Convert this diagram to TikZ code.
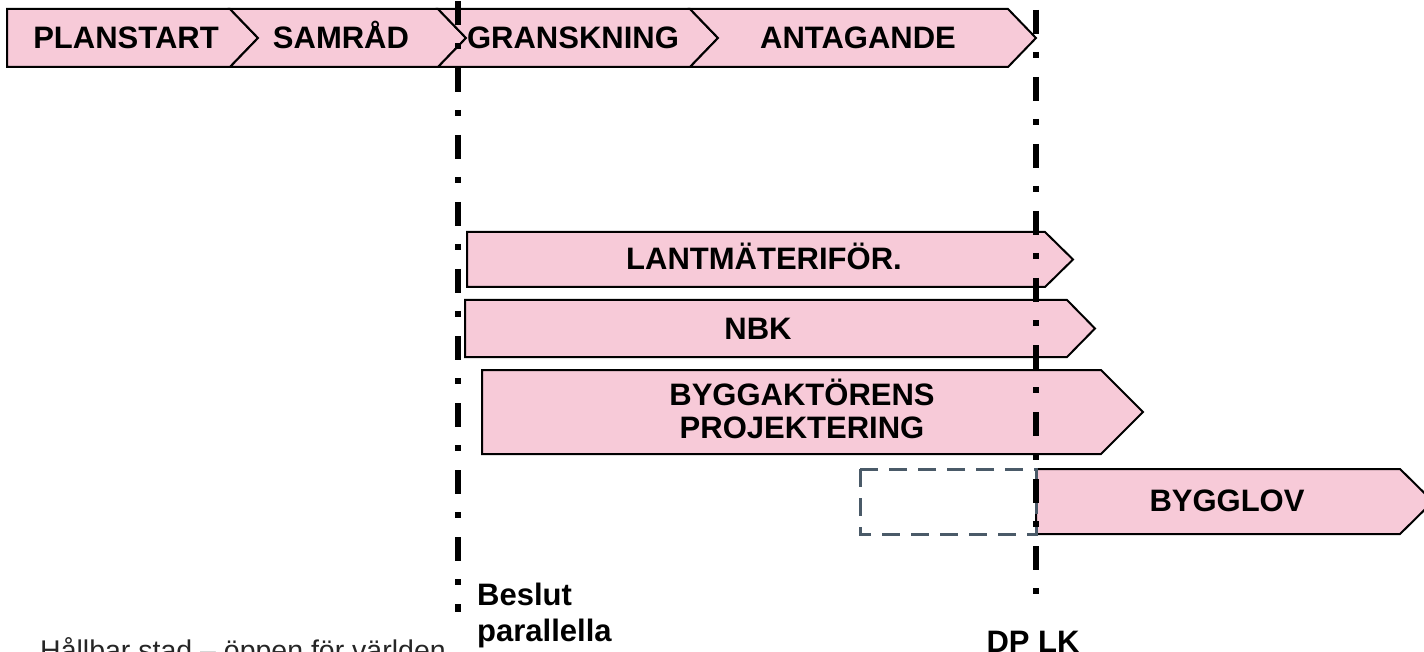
\documentclass[tikz,border=0pt]{standalone}
\usepackage{fontspec}
\setmainfont{Liberation Sans}
\definecolor{pinkfill}{RGB}{247,202,216}
\definecolor{slategray}{RGB}{74,90,104}
\begin{document}
\begin{tikzpicture}[x=1pt,y=-1pt,
  box/.style={fill=pinkfill,draw=black,line width=2pt,line join=miter},
  lbl/.style={font=\fontsize{31}{34}\selectfont\bfseries,anchor=base,inner sep=0pt},
  lblw/.style={lbl,anchor=base west},
  dashdot/.style={line width=6.5pt,dash pattern=on 24pt off 18pt on 6pt off 19pt},
  ghost/.style={draw=slategray,line width=3pt,dash pattern=on 18pt off 11pt}]
\clip (0,0) rectangle (1424,652);
\fill[white] (0,0) rectangle (1424,652);
% top phase chevrons
\draw[box] (7,9) -- (230,9) -- (258,38) -- (230,67) -- (7,67) -- cycle;
\draw[box] (230,9) -- (438,9) -- (466,38) -- (438,67) -- (230,67) -- (258,38) -- cycle;
\draw[box] (438,9) -- (690,9) -- (718,38) -- (690,67) -- (438,67) -- (466,38) -- cycle;
\draw[box] (690,9) -- (1008,9) -- (1036,38) -- (1008,67) -- (690,67) -- (718,38) -- cycle;
% parallel arrows
\draw[box] (467,232) -- (1045,232) -- (1073,259.5) -- (1045,287) -- (467,287) -- cycle;
\draw[box] (465,300) -- (1067,300) -- (1095,328.5) -- (1067,357) -- (465,357) -- cycle;
\draw[box] (482,370) -- (1101,370) -- (1143,412) -- (1101,454) -- (482,454) -- cycle;
\draw[box] (1036,469) -- (1400,469) -- (1433,501.5) -- (1400,534) -- (1036,534) -- cycle;
% dashed placeholder
\draw[ghost] (860,469) rectangle (1036,534);
% decision lines
\coordinate (l1top) at (458,0);
\coordinate (l1bot) at (458,612);
\coordinate (l2top) at (1036,0);
\coordinate (l2bot) at (1036,596);
\draw[dashdot,dash phase=66pt] (l1top) -- (l1bot);
\draw[dashdot,dash phase=57pt] (l2top) -- (l2bot);
% labels
\node[lbl] (planstart) at (126,49) {PLANSTART};
\node[lbl] (samrad) at (341,49) {SAMRÅD};
\node[lbl] (granskning) at (573,49) {GRANSKNING};
\node[lbl] (antagande) at (858,49) {ANTAGANDE};
\node[lbl] (lantm) at (764,270) {LANTMÄTERIFÖR.};
\node[lbl] (nbk) at (758,339) {NBK};
\node[lbl] (byggA) at (802,405) {BYGGAKTÖRENS};
\node[lbl] (byggB) at (802,438) {PROJEKTERING};
\node[lbl] (bygglov) at (1227,511) {BYGGLOV};
\node[lbl] (dplk) at (1033,652) {DP LK};
\node[lblw] (beslut) at (477,605) {Beslut};
\node[lblw] (parallella) at (477,641) {parallella};
\node[anchor=base west,inner sep=0pt,text=black!85,font=\fontsize{28.5}{32}\selectfont] (footer) at (40,660.5) {Hållbar stad – öppen för världen};
\end{tikzpicture}
\end{document}
